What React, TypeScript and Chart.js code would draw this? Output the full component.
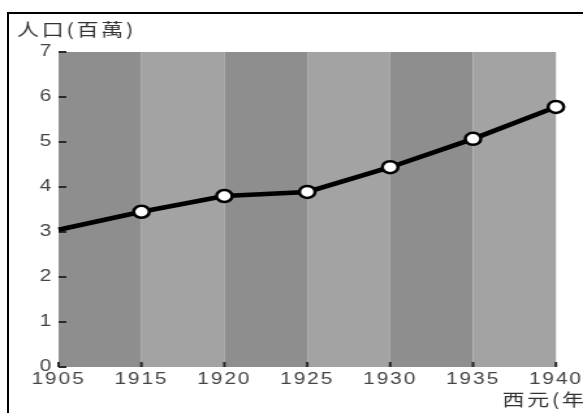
import { useEffect, useRef } from 'react';
import { Chart, registerables } from 'chart.js';

Chart.register(...registerables);

const years = ['1905', '1915', '1920', '1925', '1930', '1935', '1940'];
const population = [3.05, 3.45, 3.8, 3.89, 4.44, 5.07, 5.78];
const yTicks = [0, 1, 2, 3, 4, 5, 6, 7];
const yTitle = '人口(百萬)';
const xTitle = '西元(年)';

const W = 448;
const H = 413;
const CSS_W = 583;

const spacingPlugin = {
  id: 'spacing',
  beforeDraw(chart: any) {
    try {
      (chart.ctx as any).letterSpacing = '1.5px';
    } catch (e) {}
  },
  beforeDatasetsDraw(chart: any) {
    try {
      (chart.ctx as any).letterSpacing = '0px';
    } catch (e) {}
  },
};

const bandsPlugin = {
  id: 'bands',
  beforeDatasetsDraw(chart: any) {
    const { ctx, chartArea, scales } = chart;
    const x = scales.x;
    const y = scales.y;
    ctx.save();
    for (let i = 0; i < x.ticks.length - 1; i++) {
      const x0 = x.getPixelForTick(i);
      const x1 = x.getPixelForTick(i + 1);
      ctx.fillStyle = i % 2 === 0 ? '#8e8e8e' : '#a3a3a3';
      ctx.fillRect(x0, chartArea.top, x1 - x0, chartArea.bottom - chartArea.top);
    }
    ctx.strokeStyle = '#2a2a2a';
    ctx.lineWidth = 2;
    y.ticks.forEach((_t: any, i: number) => {
      const py = Math.round(y.getPixelForTick(i));
      ctx.beginPath();
      ctx.moveTo(chartArea.left, py);
      ctx.lineTo(chartArea.left + 6, py);
      ctx.stroke();
    });
    x.ticks.forEach((_t: any, i: number) => {
      const px = x.getPixelForTick(i);
      ctx.beginPath();
      ctx.moveTo(px, chartArea.bottom);
      ctx.lineTo(px, chartArea.bottom - 5);
      ctx.stroke();
    });
    ctx.restore();
  },
};

const titlesPlugin = {
  id: 'titles',
  afterDraw(chart: any) {
    const { ctx } = chart;
    ctx.save();
    ctx.font = '17px "Noto Sans CJK TC"';
    ctx.fillStyle = '#333';
    ctx.textBaseline = 'middle';
    ctx.textAlign = 'left';
    try {
      (ctx as any).letterSpacing = '2px';
    } catch (e) {}
    ctx.fillText(yTitle, 13, 30);
    ctx.fillText(xTitle, 386, 400);
    ctx.restore();
  },
};

export default function App() {
  const ref = useRef<HTMLCanvasElement | null>(null);

  useEffect(() => {
    if (!ref.current) return;
    const chart = new Chart(ref.current, {
      type: 'line',
      data: {
        labels: years,
        datasets: [
          {
            data: population,
            borderColor: '#000',
            borderWidth: 4.5,
            pointRadius: (c: any) => (c.dataIndex === 0 ? 0 : 6),
            pointBackgroundColor: '#fff',
            pointBorderColor: '#000',
            pointBorderWidth: 2.5,
            tension: 0,
            clip: false as any,
          },
        ],
      },
      options: {
        responsive: false,
        animation: false,
        devicePixelRatio: 1,
        layout: { padding: { top: 52, right: 19, left: 0, bottom: 0 } },
        plugins: {
          legend: { display: false },
          tooltip: { enabled: false },
          title: { display: false },
        },
        scales: {
          x: {
            type: 'category',
            offset: false,
            grid: { display: false, drawTicks: false },
            border: { display: false },
            ticks: {
              color: '#444',
              font: { family: '"Liberation Sans"', size: 16 },
              padding: 3,
              maxRotation: 0,
              autoSkip: false,
            },
            afterFit: (s: any) => {
              s.height = 46;
            },
          },
          y: {
            min: 0,
            max: 7,
            grid: { display: false, drawTicks: false },
            border: { display: false },
            ticks: {
              color: '#444',
              font: { family: '"Liberation Sans"', size: 16 },
              padding: 4,
            },
            afterBuildTicks: (s: any) => {
              s.ticks = yTicks.map((v) => ({ value: v }));
            },
            afterFit: (s: any) => {
              s.width = 45;
            },
          },
        },
      },
      plugins: [spacingPlugin, bandsPlugin, titlesPlugin],
    });
    return () => chart.destroy();
  }, []);

  return (
    <div
      style={{
        position: 'fixed',
        left: 0,
        top: 0,
        width: CSS_W,
        height: H,
        overflow: 'hidden',
        background: '#fff',
      }}
    >
      <canvas
        ref={ref}
        width={W}
        height={H}
        style={{ position: 'absolute', left: 0, top: 0, width: CSS_W + 'px', height: H + 'px' }}
      />
      <div
        style={{
          position: 'absolute',
          left: 7,
          top: 12,
          width: 800,
          height: 600,
          border: '2px solid #000',
          pointerEvents: 'none',
        }}
      />
    </div>
  );
}
